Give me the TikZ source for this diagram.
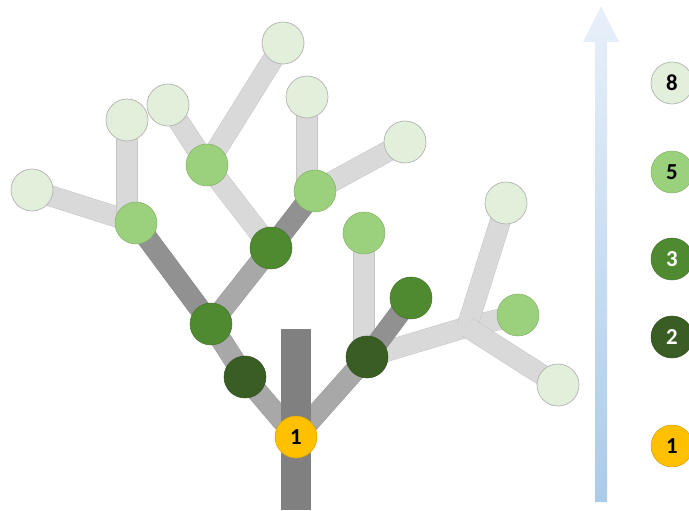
\documentclass[tikz,border=0pt]{standalone}
\usepackage{fontspec}
\setmainfont{Carlito}
\usepackage{xcolor}

\definecolor{leafgreen}{HTML}{E2EFDA}
\definecolor{lightgreen}{HTML}{9BD07D}
\definecolor{midgreen}{HTML}{508A30}
\definecolor{darkgreen}{HTML}{3A5D24}
\definecolor{rootyellow}{HTML}{FFC000}
\definecolor{arrowtop}{HTML}{E8F0FA}
\definecolor{arrowbot}{HTML}{ABCBE8}

\pgfdeclarelayer{background}
\pgfsetlayers{background,main}

\begin{document}
\begin{tikzpicture}[x=0.02cm,y=-0.02cm,
leafs/.style={circle,draw=gray!60,line width=0.4pt,fill=leafgreen,minimum size=0.84cm,inner sep=0pt},
lights/.style={circle,draw=lightgreen!85!black,line width=0.3pt,fill=lightgreen,minimum size=0.84cm,inner sep=0pt},
mids/.style={circle,draw=midgreen!85!black,line width=0.3pt,fill=midgreen,text=white,minimum size=0.84cm,inner sep=0pt},
darks/.style={circle,draw=darkgreen!85!black,line width=0.3pt,fill=darkgreen,text=white,minimum size=0.84cm,inner sep=0pt},
roots/.style={circle,draw=rootyellow!85!black,line width=0.3pt,fill=rootyellow,minimum size=0.84cm,inner sep=0pt},
nums/.style={font=\fontsize{13}{15}\selectfont\bfseries},
barlight/.style={draw=gray!45,line width=0.3pt,double=gray!30,double distance=0.40cm},
barmid/.style={draw=gray!80,line width=0.3pt,double=gray!68,double distance=0.40cm},
bardark/.style={draw=gray!95,line width=0.3pt,double=gray!86,double distance=0.40cm}]
\useasboundingbox (0,0) rectangle (689,510);
\clip (0,0) rectangle (689,510);

\node [roots,nums] (root) at (296,437) {1};
\node [darks] (l2-0) at (245,377) {};
\node [darks] (l2-1) at (367,357) {};
\node [mids] (l3-0) at (211,324) {};
\node [mids] (l3-1) at (271,248) {};
\node [mids] (l3-2) at (411,298) {};
\node [lights] (l5-0) at (136,223) {};
\node [lights] (l5-1) at (207,165) {};
\node [lights] (l5-2) at (315,191) {};
\node [lights] (l5-3) at (364,233) {};
\node [lights] (l5-4) at (518,315) {};
\node [leafs] (l8-0) at (32,190) {};
\node [leafs] (l8-1) at (127,120) {};
\node [leafs] (l8-2) at (168,105) {};
\node [leafs] (l8-3) at (283,43) {};
\node [leafs] (l8-4) at (307,97) {};
\node [leafs] (l8-5) at (405,142) {};
\node [leafs] (l8-6) at (506,203) {};
\node [leafs] (l8-7) at (558,385) {};
\coordinate (fork) at (467,327);

\begin{pgfonlayer}{background}
\draw [barlight] (l5-0.center)--(l8-0.center);
\draw [barlight] (l8-1.center)--(l8-1.center |- l5-0.center);
\draw [barlight] (l5-1.center)--(l8-2.center);
\draw [barlight] (l5-1.center)--(l8-3.center);
\draw [barlight] (l8-4.center)--(l8-4.center |- l5-2.center);
\draw [barlight] (l5-2.center)--(l8-5.center);
\draw [barlight] (l3-1.center)--(l5-1.center);
\draw [barlight] (l5-3.center)--(l5-3.center |- l2-1.center);
\draw [barlight] (l2-1.center)--(fork)--(l5-4.center);
\draw [barlight] (fork)--(l8-6.center);
\draw [barlight] (fork)--(l8-7.center);
\draw [bardark] (l3-0.center)--(l5-0.center);
\draw [bardark] (l3-1.center)--(l5-2.center);
\draw [barmid] (l3-0.center)--(l3-1.center);
\draw [barmid] (l2-0.center)--(l3-0.center);
\draw [barmid] (root.center)--(l2-0.center);
\draw [barmid] (root.center)--(l2-1.center);
\draw [bardark] (l2-1.center)--(l3-2.center);
\fill [gray] (281,329) rectangle (311,510);
\end{pgfonlayer}

\shade [top color=arrowtop,bottom color=arrowbot] (595,502)--(595,42)--(583,42)--(601,6)--(619,42)--(607,42)--(607,502)--cycle;

\node [leafs,nums] (key8) at (672,83) {8};
\node [lights,nums] (key5) at (672,172) {5};
\node [mids,nums] (key3) at (672,259) {3};
\node [darks,nums] (key2) at (672,337) {2};
\node [roots,nums] (key1) at (672,446) {1};
\end{tikzpicture}
\end{document}
